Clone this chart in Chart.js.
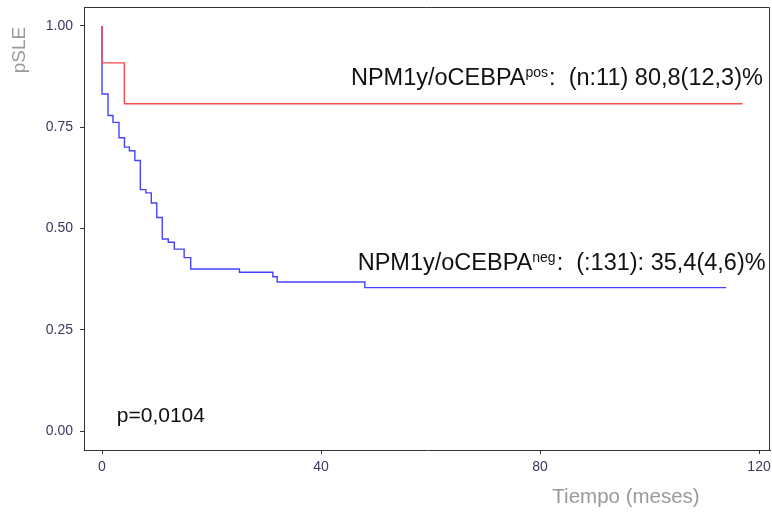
<!DOCTYPE html>
<html>
<head>
<meta charset="utf-8">
<script src="https://cdn.jsdelivr.net/npm/chart.js@4.4.1/dist/chart.umd.min.js"></script>
<style>
    html, body { margin: 0; padding: 0; background: #fff; }
    #wrap { width: 772px; height: 512px; position: relative; }
</style>
</head>
<body>
<div id="wrap"><canvas id="km"></canvas></div>
<script>
// Kaplan-Meier steps: time in months, survival probability
const posTimes = [0, 0, 4.07, 117];
const posSurv  = [1, 0.909, 0.808, 0.808];

const negTimes = [0, 0, 1.1, 2.0, 3.1, 4.1, 5.0, 6.0, 7.0, 8.0, 9.0, 10.0, 11.0, 12.1, 13.2, 15.0, 16.2, 25.1, 31.2, 32.0, 48.0, 114.0];
const negSurv  = [1, 0.832, 0.779, 0.762, 0.724, 0.701, 0.692, 0.668, 0.596, 0.588, 0.563, 0.527, 0.474, 0.466, 0.449, 0.428, 0.400, 0.392, 0.381, 0.368, 0.354, 0.354];

const xTicks = [0, 40, 80, 120];
const yTicks = [0, 0.25, 0.5, 0.75, 1];

// label pieces: main text, superscript, rest
const posLabel = ['NPM1y/oCEBPA', 'pos', ':  (n:11) 80,8(12,3)%'];
const negLabel = ['NPM1y/oCEBPA', 'neg', ':  (:131): 35,4(4,6)%'];
const pText = 'p=0,0104';

const tickFont = { family: "'Liberation Sans Narrow', 'Liberation Sans', Arial, sans-serif", size: 14 };
const tickColor = '#3a3a62';
const axisColor = '#333333';

function toPoints(xs, ys) {
    return xs.map((x, i) => ({ x: x, y: ys[i] }));
}

// no extra room for the edge tick labels
function noPad(s) {
    s.paddingTop = 0;
    s.paddingBottom = 0;
    s.paddingLeft = 0;
    s.paddingRight = 0;
}

// draws a label with a superscript part, right edge at xRight
function drawSupLabel(ctx, parts, xRight, baseY) {
    const mainFont = "23.5px 'Liberation Sans', Arial, sans-serif";
    const supFont = "14px 'Liberation Sans', Arial, sans-serif";
    ctx.font = mainFont;
    const w1 = ctx.measureText(parts[0]).width;
    const w3 = ctx.measureText(parts[2]).width;
    ctx.font = supFont;
    const w2 = ctx.measureText(parts[1]).width + 1;
    let x = xRight - (w1 + w2 + w3);
    ctx.fillStyle = '#111';
    ctx.textAlign = 'left';
    ctx.textBaseline = 'alphabetic';
    ctx.font = mainFont;
    ctx.fillText(parts[0], x, baseY);
    x += w1;
    ctx.font = supFont;
    ctx.fillText(parts[1], x, baseY - 8);
    x += w2;
    ctx.font = mainFont;
    ctx.fillText(parts[2], x, baseY);
}

const annotations = {
    id: 'annotations',
    afterDatasetsDraw(chart) {
        const ctx = chart.ctx;
        const xs = chart.scales.x, ys = chart.scales.y;
        const area = chart.chartArea;
        ctx.save();
        // top and right frame edges
        ctx.strokeStyle = axisColor;
        ctx.lineWidth = 1;
        ctx.beginPath();
        ctx.moveTo(area.left, area.top + 0.5);
        ctx.lineTo(area.right - 0.5, area.top + 0.5);
        ctx.lineTo(area.right - 0.5, area.bottom);
        ctx.stroke();

        drawSupLabel(ctx, posLabel, xs.getPixelForValue(120.7), ys.getPixelForValue(0.855));
        drawSupLabel(ctx, negLabel, xs.getPixelForValue(121.2), ys.getPixelForValue(0.397));

        ctx.font = "21px 'Liberation Sans', Arial, sans-serif";
        ctx.fillStyle = '#111';
        ctx.textAlign = 'left';
        ctx.fillText(pText, xs.getPixelForValue(2.7), ys.getPixelForValue(0.022));

        // axis titles
        ctx.fillStyle = '#9a9a9a';
        ctx.font = "20.5px 'Liberation Sans', Arial, sans-serif";
        ctx.textAlign = 'center';
        ctx.textBaseline = 'middle';
        ctx.fillText('Tiempo (meses)', 626, 497);
        ctx.font = "19px 'Liberation Sans', Arial, sans-serif";
        ctx.translate(20, 50);
        ctx.rotate(-Math.PI / 2);
        ctx.fillText('pSLE', 0, 0);
        ctx.restore();
    }
};

new Chart(document.getElementById('km'), {
    type: 'line',
    data: {
        datasets: [
            {
                label: 'pos',
                data: toPoints(posTimes, posSurv),
                borderColor: '#ff4b4b',
                borderWidth: 1.4,
                stepped: 'before',
                pointRadius: 0,
                fill: false
            },
            {
                label: 'neg',
                data: toPoints(negTimes, negSurv),
                borderColor: '#4444ff',
                borderWidth: 1.4,
                stepped: 'before',
                pointRadius: 0,
                fill: false
            }
        ]
    },
    options: {
        responsive: true,
        maintainAspectRatio: false,
        animation: false,
        layout: { padding: { top: 7, right: 2, left: 0, bottom: 0 } },
        plugins: { legend: { display: false }, tooltip: { enabled: false } },
        scales: {
            x: {
                type: 'linear',
                min: -3.29,
                max: 122,
                afterBuildTicks: s => { s.ticks = xTicks.map(v => ({ value: v })); },
                afterFit: s => { s.height = 62; noPad(s); },
                grid: { drawOnChartArea: false, drawTicks: true, tickLength: 4, color: axisColor },
                border: { display: true, color: axisColor, width: 1 },
                ticks: { font: tickFont, color: tickColor, padding: 5, maxRotation: 0 }
            },
            y: {
                min: -0.0469,
                max: 1.0469,
                afterBuildTicks: s => { s.ticks = yTicks.map(v => ({ value: v })); },
                afterFit: s => { s.width = 84; noPad(s); },
                grid: { drawOnChartArea: false, drawTicks: true, tickLength: 4, color: axisColor },
                border: { display: true, color: axisColor, width: 1 },
                ticks: { font: tickFont, color: tickColor, padding: 7, callback: v => v.toFixed(2) }
            }
        }
    },
    plugins: [annotations]
});
</script>
</body>
</html>
